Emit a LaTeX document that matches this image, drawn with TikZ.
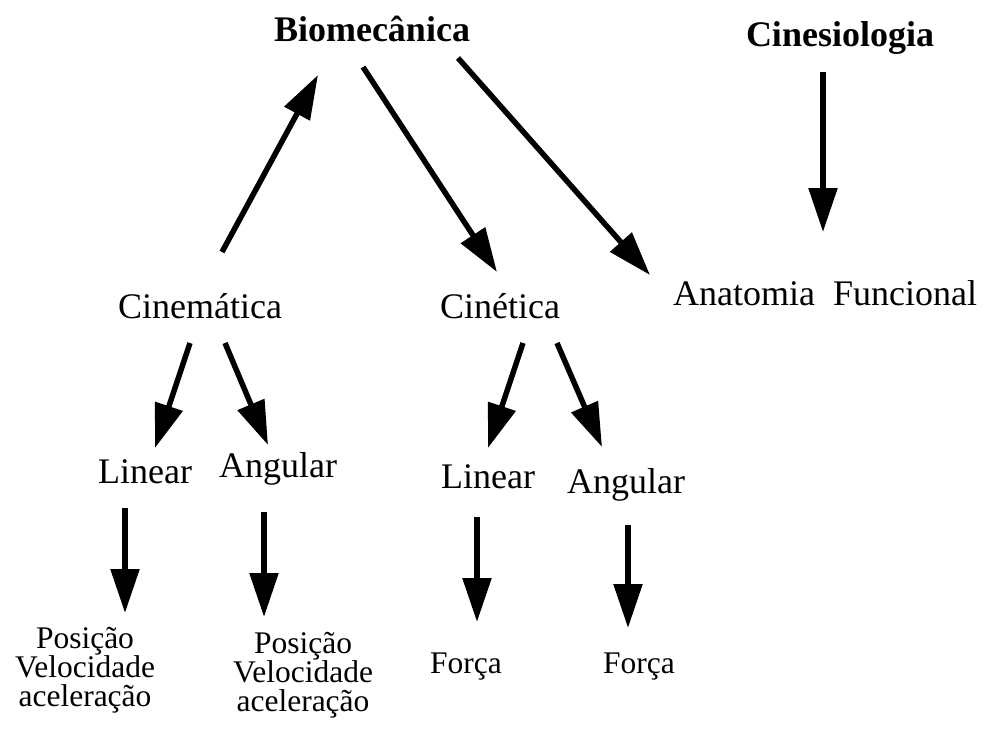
\documentclass[tikz,border=0pt]{standalone}
\usepackage{fontspec}
\setmainfont{Liberation Serif}
\usetikzlibrary{arrows.meta}

\tikzset{
  big/.style={inner sep=0pt, anchor=base, font=\fontsize{36}{40}\selectfont},
  head/.style={big, font=\fontsize{36}{40}\selectfont\bfseries},
  leaf/.style={inner sep=0pt, anchor=base, align=center, font=\fontsize{31.5}{29}\selectfont},
  arr/.style={line width=5.5pt, -{Triangle[length=44pt,width=28pt]}},
}

\begin{document}
\begin{tikzpicture}[x=1pt,y=-1pt]
\useasboundingbox[fill=white] (0,0) rectangle (988,741);

% top level
\node[head] (bio)   at (372,42) {Biomecânica};
\node[head] (cines) at (840,47) {Cinesiologia};

% second level
\node[big] (cinem) at (200,318) {Cinemática};
\node[big] (cinet) at (500,318) {Cinética};
\node[big] (anat)  at (825,305) {Anatomia\ \ Funcional};

% third level
\node[big] (linL) at (145,483) {Linear};
\node[big] (angL) at (278,477) {Angular};
\node[big] (linR) at (488,488) {Linear};
\node[big] (angR) at (626,493) {Angular};

% leaves (base = baseline of the last line)
\node[leaf] (posL) at (85,706)  {Posição\\Velocidade\\aceleração};
\node[leaf] (posR) at (303,711) {Posição\\Velocidade\\aceleração};
\node[leaf] (forL) at (466,673) {Força};
\node[leaf] (forR) at (639,673) {Força};

% connectors
\draw[arr] ([shift={(22,-66)}]cinem.base) -- ([shift={(-54,33)}]bio.base);
\draw[arr] ([shift={(-9,25)}]bio.base) -- ([shift={(-3,-46)}]cinet.base);
\draw[arr] ([shift={(86,16)}]bio.base) -- ([shift={(-175,-30)}]anat.base);
\draw[arr] ([shift={(-17,25)}]cines.base) -- ([shift={(-2,-73)}]anat.base);

\draw[arr] ([shift={(-10,25)}]cinem.base) -- ([shift={(10,-35)}]linL.base);
\draw[arr] ([shift={(25,25)}]cinem.base) -- ([shift={(-10,-32)}]angL.base);
\draw[arr] ([shift={(-20,25)}]linL.base) -- ([shift={(40,-93)}]posL.base);
\draw[arr] ([shift={(-14,35)}]angL.base) -- ([shift={(-39,-94)}]posR.base);

\draw[arr] ([shift={(23,25)}]cinet.base) -- ([shift={(0,-40)}]linR.base);
\draw[arr] ([shift={(57,25)}]cinet.base) -- ([shift={(-24,-46)}]angR.base);
\draw[arr] ([shift={(-11,29)}]linR.base) -- ([shift={(11,-51)}]forL.base);
\draw[arr] ([shift={(2,32)}]angR.base) -- ([shift={(-11,-45)}]forR.base);
\end{tikzpicture}
\end{document}
